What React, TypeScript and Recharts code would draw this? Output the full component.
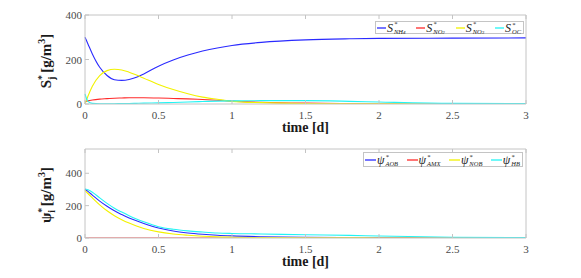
import React from "react";
import { LineChart, Line, XAxis, YAxis } from "recharts";

// time grid [d] shared by both panels
const time = [0, 0.02, 0.05, 0.1, 0.15, 0.2, 0.25, 0.3, 0.35, 0.4, 0.5, 0.6, 0.7, 0.8, 0.9, 1, 1.2, 1.5, 1.8, 2, 2.5, 3];

// top panel: substrates S*_j [g/m3]
const sNH4 = [300, 270, 225, 165, 128, 109, 106, 110, 120, 135, 170, 198, 220, 238, 252, 263, 277, 288, 293, 295, 296, 297];
const sNO2 = [10, 14, 18, 22, 24, 26, 27, 28, 28, 28, 27, 25, 23, 20, 17, 13, 8, 4, 2, 1, 0, 0];
const sNO3 = [0, 35, 80, 128, 150, 156, 153, 143, 130, 116, 88, 65, 46, 31, 21, 12, 6, 2, 1, 1, 0, 0];
const sOC = [45, 12, 3, 1, 1, 1, 2, 2, 3, 4, 5, 7, 9, 11, 13, 14, 15, 15, 12, 9, 3, 2];

// bottom panel: biomass psi*_i [g/m3]
const pAOB = [300, 288, 265, 228, 196, 168, 145, 124, 106, 90, 62, 43, 31, 23, 17, 13, 8, 4, 2, 1, 0, 0];
const pAMX = [0, 0, 0, 0, 0, 0, 0, 0, 0, 0, 0, 0, 0, 0, 0, 0, 0, 0, 0, 0, 0, 0];
const pNOB = [295, 275, 248, 205, 168, 138, 113, 92, 74, 59, 38, 25, 17, 11, 7, 5, 3, 1, 1, 0, 0, 0];
const pHB = [305, 298, 283, 248, 214, 184, 160, 138, 118, 100, 70, 54, 44, 37, 31, 28, 25, 20, 16, 12, 5, 2];

const xTicks = [0, 0.5, 1, 1.5, 2, 2.5, 3];
const yTicks = [0, 200, 400];

const topData = time.map((t, i) => ({ t, nh4: sNH4[i], no2: sNO2[i], no3: sNO3[i], oc: sOC[i] }));
const bottomData = time.map((t, i) => ({ t, aob: pAOB[i], amx: pAMX[i], nob: pNOB[i], hb: pHB[i] }));

const FONT = '"Liberation Serif", "Times New Roman", serif';
const BOX = "#c4c4c4";
const TICK_TXT = "#4a4a4a";
const BLUE = "#2a2aff";
const RED = "#ff2a2a";
const YELLOW = "#f2f200";
const CYAN = "#22f4f4";

const BottomTick = ({ x, y, payload }: any) => (
  <g>
    <line x1={x} y1={y} x2={x} y2={y - 4} stroke={BOX} />
    <text x={x} y={y + 15} textAnchor="middle" fontSize={11} fontFamily={FONT} fill={TICK_TXT}>
      {String(payload.value)}
    </text>
  </g>
);
const TopTick = ({ x, y }: any) => <line x1={x} y1={y} x2={x} y2={y + 4} stroke={BOX} />;
const LeftTick = ({ x, y, payload }: any) => (
  <g>
    <line x1={x} y1={y} x2={x + 4} y2={y} stroke={BOX} />
    <text x={x - 3} y={y + 4} textAnchor="end" fontSize={11} fontFamily={FONT} fill={TICK_TXT}>
      {String(payload.value)}
    </text>
  </g>
);
const RightTick = ({ x, y }: any) => <line x1={x} y1={y} x2={x - 4} y2={y} stroke={BOX} />;

const TimeLabel = ({ viewBox }: any) => (
  <text
    x={viewBox.x + viewBox.width / 2}
    y={viewBox.y + 28}
    textAnchor="middle"
    fontSize={14}
    fontWeight="bold"
    fontFamily={FONT}
    fill="#1a1a1a"
  >
    time [d]
  </text>
);

const YLabel = ({ sym, sub }: { sym: string; sub: string }) => (
  <text
    transform="translate(51,61) rotate(-90)"
    textAnchor="middle"
    fontSize={15}
    fontWeight="bold"
    fontFamily={FONT}
    fill="#1a1a1a"
  >
    {sym}
    <tspan dy={-6} fontSize={10}>*</tspan>
    <tspan dx={-5} dy={10} fontSize={10}>{sub}</tspan>
    <tspan dy={-4}> [g/m</tspan>
    <tspan dy={-6} fontSize={10}>3</tspan>
    <tspan dy={6}>]</tspan>
  </text>
);

type Entry = { color: string; base: string; sub: React.ReactNode };

const MathSym = ({ base, sub }: { base: string; sub: React.ReactNode }) => (
  <span style={{ display: "inline-flex", alignItems: "center" }}>
    <span style={{ fontStyle: "italic", fontSize: 12, lineHeight: "12px" }}>{base}</span>
    <span
      style={{
        display: "inline-flex",
        flexDirection: "column",
        fontSize: 6.5,
        lineHeight: "7.5px",
        fontStyle: "italic",
        marginLeft: 1,
        marginTop: 1,
      }}
    >
      <span>*</span>
      <span>{sub}</span>
    </span>
  </span>
);

const LegendBox = ({ entries, left, top, width, height, lineW }: { entries: Entry[]; left: number; top: number; width: number; height: number; lineW: number }) => (
  <div
    style={{
      position: "absolute",
      left,
      top,
      width,
      height,
      border: `1px solid ${BOX}`,
      background: "#fff",
      boxSizing: "border-box",
      display: "flex",
      alignItems: "center",
      justifyContent: "space-between",
      fontFamily: FONT,
      color: "#222",
      padding: "0 2px 0 1px",
    }}
  >
    {entries.map((e, i) => (
      <span key={i} style={{ display: "inline-flex", alignItems: "center" }}>
        <svg width={lineW} height={4} style={{ marginRight: 1 }}>
          <line x1={0} y1={2} x2={lineW} y2={2} stroke={e.color} strokeWidth={1.3} />
        </svg>
        <MathSym base={e.base} sub={e.sub} />
      </span>
    ))}
  </div>
);

const topEntries: Entry[] = [
  { color: BLUE, base: "S", sub: <>NH<span style={{ fontSize: 5 }}>4</span></> },
  { color: RED, base: "S", sub: <>NO<span style={{ fontSize: 5 }}>2</span></> },
  { color: YELLOW, base: "S", sub: <>NO<span style={{ fontSize: 5 }}>3</span></> },
  { color: CYAN, base: "S", sub: "OC" },
];
const bottomEntries: Entry[] = [
  { color: BLUE, base: "ψ", sub: "AOB" },
  { color: RED, base: "ψ", sub: "AMX" },
  { color: YELLOW, base: "ψ", sub: "NOB" },
  { color: CYAN, base: "ψ", sub: "HB" },
];

function Panel({ data, keys, colors, yMax, height, bottomPad, sym, sub }: any) {
  return (
    <LineChart width={581} height={height} data={data} margin={{ top: 10, right: 50, bottom: bottomPad, left: 45 }}>
      <XAxis
        dataKey="t"
        type="number"
        domain={[0, 3]}
        ticks={xTicks}
        height={20}
        tickSize={0}
        tickMargin={0}
        tickLine={false}
        axisLine={{ stroke: BOX }}
        tick={<BottomTick />}
        interval={0}
        label={<TimeLabel />}
      />
      <XAxis
        xAxisId="top"
        orientation="top"
        dataKey="t"
        type="number"
        domain={[0, 3]}
        ticks={xTicks}
        height={5}
        tickSize={0}
        tickMargin={0}
        tickLine={false}
        axisLine={{ stroke: BOX }}
        tick={<TopTick />}
        interval={0}
      />
      <YAxis
        type="number"
        domain={[0, yMax]}
        ticks={yTicks}
        width={40}
        tickSize={0}
        tickMargin={0}
        tickLine={false}
        axisLine={{ stroke: BOX }}
        tick={<LeftTick />}
        interval={0}
        allowDataOverflow
        label={<YLabel sym={sym} sub={sub} />}
      />
      <YAxis
        yAxisId="right"
        orientation="right"
        type="number"
        domain={[0, yMax]}
        ticks={yTicks}
        width={5}
        tickSize={0}
        tickMargin={0}
        tickLine={false}
        axisLine={{ stroke: BOX }}
        tick={<RightTick />}
        interval={0}
      />
      {keys.map((k: string, i: number) => (
        <Line
          key={k}
          dataKey={k}
          type="monotone"
          stroke={colors[i]}
          strokeWidth={1.1}
          dot={false}
          isAnimationActive={false}
        />
      ))}
    </LineChart>
  );
}

export default function App() {
  const colors = [BLUE, RED, YELLOW, CYAN];
  return (
    <div style={{ position: "absolute", left: 0, top: 0, width: 581, height: 278, background: "#fff", overflow: "hidden" }}>
      <div style={{ position: "absolute", left: 0, top: 0 }}>
        <Panel data={topData} keys={["nh4", "no2", "no3", "oc"]} colors={colors} yMax={400} height={134} bottomPad={10} sym="S" sub="j" />
      </div>
      <div style={{ position: "absolute", left: 0, top: 134 }}>
        <Panel data={bottomData} keys={["aob", "amx", "nob", "hb"]} colors={colors} yMax={550} height={144} bottomPad={20} sym="ψ" sub="i" />
      </div>
      <LegendBox entries={topEntries} left={375} top={21} width={149} height={13} lineW={9} />
      <LegendBox entries={bottomEntries} left={363} top={152} width={160} height={15} lineW={11} />
    </div>
  );
}
